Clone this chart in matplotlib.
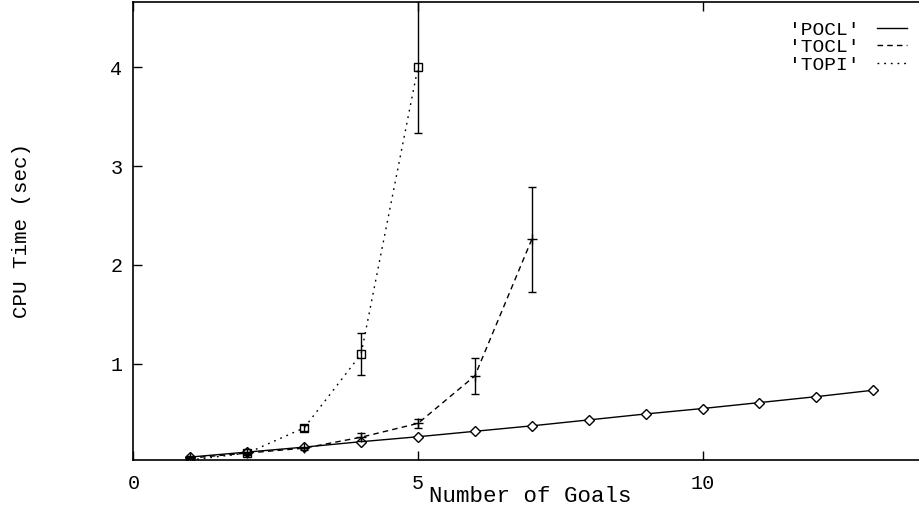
import matplotlib
matplotlib.use("Agg")
import matplotlib.pyplot as plt
from matplotlib.lines import Line2D

plt.rcParams['font.family'] = ['Liberation Mono', 'DejaVu Sans Mono']

# Data
pocl_x = [1, 2, 3, 4, 5, 6, 7, 8, 9, 10, 11, 12, 13]
pocl_y = [0.06, 0.11, 0.16, 0.215, 0.265, 0.32, 0.375, 0.435, 0.495, 0.55, 0.61, 0.67, 0.735]

tocl_x = [1, 2, 3, 4, 5, 6, 7]
tocl_y = [0.05, 0.10, 0.15, 0.26, 0.40, 0.88, 2.26]
tocl_err = [0.01, 0.01, 0.015, 0.04, 0.045, 0.18, 0.53]

topi_x = [1, 2, 3, 4, 5]
topi_y = [0.03, 0.10, 0.355, 1.10, 4.00]
topi_err = [0.01, 0.015, 0.03, 0.21, 0.67]

x_ticks = [0, 5, 10]
y_ticks = [1, 2, 3, 4]
labels = ["'POCL'", "'TOCL'", "'TOPI'"]

W, H = 920, 512
fig = plt.figure(figsize=(W / 100, H / 100), dpi=100)
left, right, top, bottom = 133.5, 987.0, 1.7, 460.0
ax = fig.add_axes([left / W, 1 - bottom / H, (right - left) / W, (bottom - top) / H])

lw = 1.0
dash = (0, (4, 3))
dot = (0, (1.3, 3.5))
ax.plot(pocl_x, pocl_y, color='black', lw=lw, ls='-', marker='D', ms=4.6,
        mfc='white', mec='black', mew=1.0, zorder=3)
ax.errorbar(tocl_x, tocl_y, yerr=tocl_err, color='black', lw=lw, ls=dash,
            marker='+', ms=7, mew=1.0, ecolor='black', elinewidth=1.0,
            capsize=3, capthick=1.0, zorder=3)
ax.errorbar(topi_x, topi_y, yerr=topi_err, color='black', lw=lw, ls=dot,
            marker='s', ms=6.3, mfc='none', mec='black', mew=1.0, ecolor='black',
            elinewidth=1.0, capsize=3, capthick=1.0, zorder=3)

ax.set_xlim(0, 15)
ax.set_ylim(0.03, 4.66)
ax.set_xticks(x_ticks)
ax.set_yticks(y_ticks)
ax.tick_params(direction='in', length=6.5, width=1.0, top=True, right=True,
               labelsize=14.5, pad=10)
ax.tick_params(axis='y', pad=8)
for s in ax.spines.values():
    s.set_linewidth(1.2)

ax.set_xlabel('Number of Goals', fontsize=16.2)
ax.xaxis.set_label_coords((530 - left) / (right - left), -(497 - bottom) / (bottom - top))
ax.xaxis.label.set_va('center')
ax.set_ylabel('CPU Time (sec)', fontsize=15)
ax.yaxis.set_label_coords(-(133.5 - 22) / (right - left), (bottom - 230) / (bottom - top))
ax.yaxis.label.set_va('center')

handles = [Line2D([], [], color='black', lw=lw, ls='-'),
           Line2D([], [], color='black', lw=lw, ls=dash),
           Line2D([], [], color='black', lw=lw, ls=dot)]
fig.legend(handles, labels, loc='upper right', bbox_to_anchor=(907 / W, 1 - 21 / H),
           frameon=False, markerfirst=False, fontsize=14, handlelength=1.55,
           handletextpad=0.9, labelspacing=0.0, borderpad=0.0, borderaxespad=0.0)

fig.savefig('out.png', dpi=100)
